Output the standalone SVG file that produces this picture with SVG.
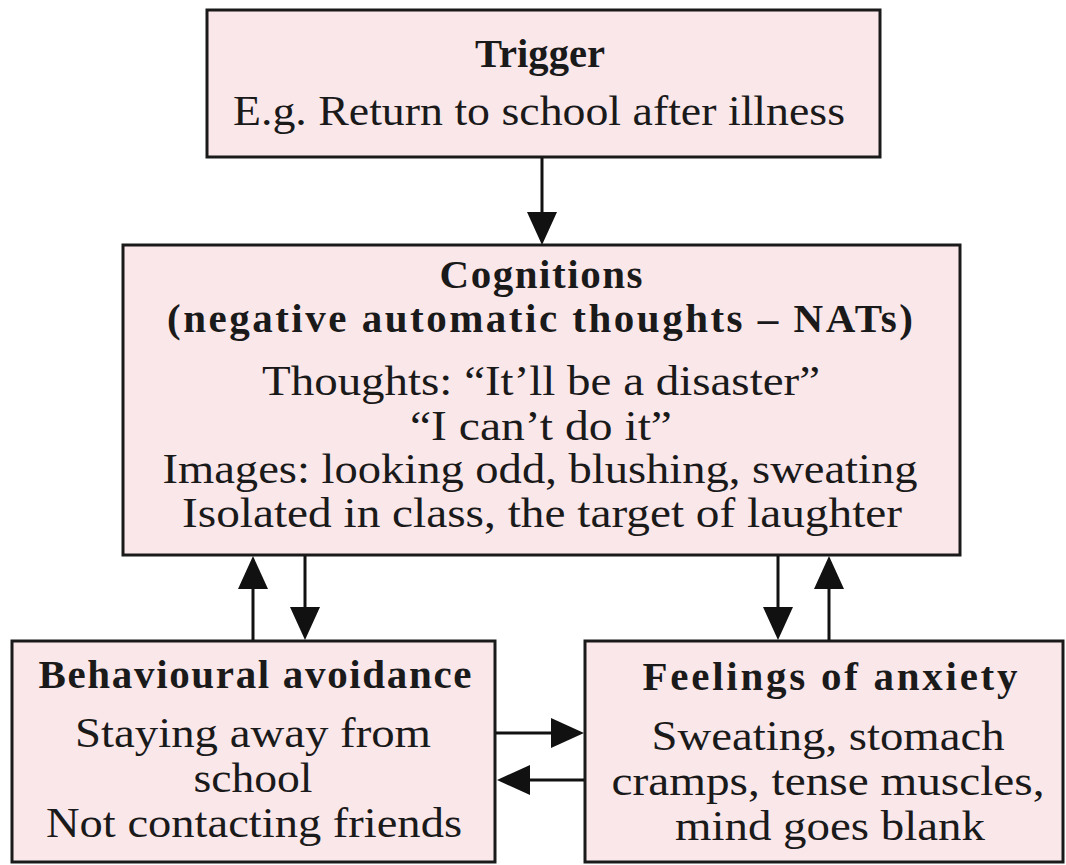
<svg xmlns="http://www.w3.org/2000/svg" width="1066" height="865" viewBox="0 0 1066 865">
  <style>
    .box { fill: #fae7ea; stroke: #1a1a1a; stroke-width: 3; }
    .title { font-family: "Liberation Serif", serif; font-weight: bold; font-size: 41px; fill: #1a1a1a; text-anchor: middle; }
    .body { font-family: "Liberation Serif", serif; font-size: 42px; fill: #1a1a1a; text-anchor: middle; }
    .conn { stroke: #111; stroke-width: 3; fill: none; marker-end: url(#arrow); }
  </style>
  <defs>
    <marker id="arrow" markerUnits="userSpaceOnUse" viewBox="0 0 33 30" refX="23" refY="15" markerWidth="33" markerHeight="30" orient="auto">
      <path d="M0,0 L33,15 L0,30 z" fill="#111"/>
    </marker>
  </defs>
  <rect width="1066" height="865" fill="#ffffff"/>

  <g id="trigger">
    <rect class="box" x="207" y="10" width="673" height="147"/>
    <text class="title" x="540" y="67" textLength="130" lengthAdjust="spacingAndGlyphs">Trigger</text>
    <text class="body" x="539" y="125" textLength="612" lengthAdjust="spacingAndGlyphs">E.g. Return to school after illness</text>
  </g>

  <g id="cognitions">
    <rect class="box" x="123" y="245" width="837" height="310"/>
    <text class="title" x="541" y="288" textLength="203" lengthAdjust="spacing">Cognitions</text>
    <text class="title" x="540" y="332" textLength="746" lengthAdjust="spacing">(negative automatic thoughts – NATs)</text>
    <text class="body" x="541" y="395" textLength="558" lengthAdjust="spacingAndGlyphs">Thoughts: “It’ll be a disaster”</text>
    <text class="body" x="541" y="440" textLength="262" lengthAdjust="spacingAndGlyphs">“I can’t do it”</text>
    <text class="body" x="540" y="483" textLength="755" lengthAdjust="spacingAndGlyphs">Images: looking odd, blushing, sweating</text>
    <text class="body" x="542" y="527" textLength="720" lengthAdjust="spacingAndGlyphs">Isolated in class, the target of laughter</text>
  </g>

  <g id="behavioural">
    <rect class="box" x="12" y="641" width="483" height="221"/>
    <text class="title" x="255" y="688" textLength="433" lengthAdjust="spacing">Behavioural avoidance</text>
    <text class="body" x="253" y="747" textLength="356" lengthAdjust="spacingAndGlyphs">Staying away from</text>
    <text class="body" x="253" y="792" textLength="119" lengthAdjust="spacingAndGlyphs">school</text>
    <text class="body" x="254" y="837" textLength="416" lengthAdjust="spacingAndGlyphs">Not contacting friends</text>
  </g>

  <g id="feelings">
    <rect class="box" x="585" y="641" width="478" height="221"/>
    <text class="title" x="830" y="690" textLength="375" lengthAdjust="spacing">Feelings of anxiety</text>
    <text class="body" x="828" y="750" textLength="353" lengthAdjust="spacingAndGlyphs">Sweating, stomach</text>
    <text class="body" x="828" y="795" textLength="433" lengthAdjust="spacingAndGlyphs">cramps, tense muscles,</text>
    <text class="body" x="830" y="840" textLength="310" lengthAdjust="spacingAndGlyphs">mind goes blank</text>
  </g>

  <g id="connectors">
    <line class="conn" x1="542" y1="158" x2="542" y2="235"/>
    <line class="conn" x1="305" y1="556" x2="305" y2="630"/>
    <line class="conn" x1="253" y1="640" x2="253" y2="566"/>
    <line class="conn" x1="778" y1="556" x2="778" y2="630"/>
    <line class="conn" x1="829" y1="640" x2="829" y2="566"/>
    <line class="conn" x1="496" y1="733" x2="574" y2="733"/>
    <line class="conn" x1="584" y1="780" x2="507" y2="780"/>
  </g>
</svg>
